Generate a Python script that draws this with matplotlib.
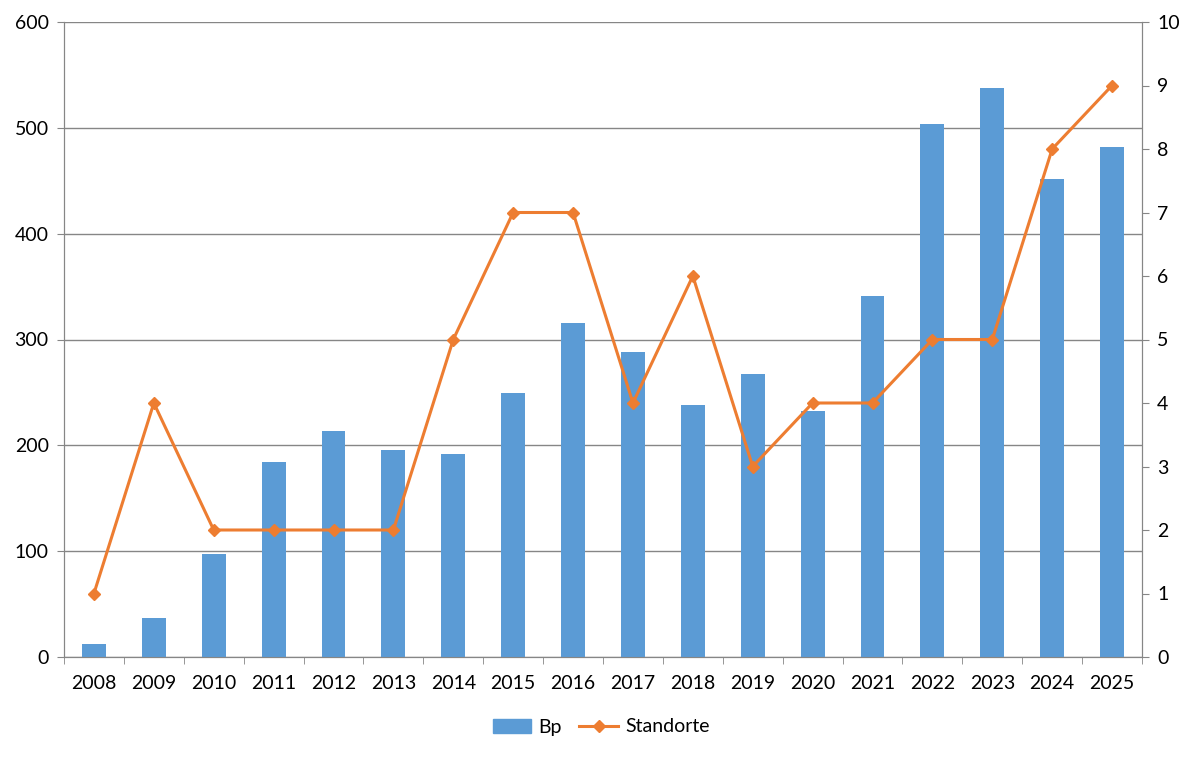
import matplotlib
matplotlib.use("Agg")
import matplotlib.pyplot as plt
from matplotlib.lines import Line2D
from matplotlib.patches import Patch
import numpy as np

years = ["2008", "2009", "2010", "2011", "2012", "2013", "2014", "2015", "2016",
         "2017", "2018", "2019", "2020", "2021", "2022", "2023", "2024", "2025"]
bp = [12, 37, 97, 184, 214, 196, 192, 249, 316, 288, 238, 267, 232, 341, 504, 538, 452, 482]
standorte = [1, 4, 2, 2, 2, 2, 5, 7, 7, 4, 6, 3, 4, 4, 5, 5, 8, 9]

bar_color = "#5B9BD5"
line_color = "#ED7D31"
grid_color = "#868686"

plt.rcParams['font.family'] = ['Lato', 'DejaVu Sans']
fs = 14

fig = plt.figure(figsize=(11.96, 7.59), dpi=100)
ax = fig.add_axes([64/1196, 1 - 657/759, (1142-64)/1196, (657-22)/759])
x = np.arange(len(years))
ax.bar(x, bp, width=0.4, color=bar_color, zorder=3)
ax.set_xlim(-0.5, len(years) - 0.5)
ax.set_ylim(0, 600)
ax.set_yticks(range(0, 601, 100))
ax.yaxis.grid(True, color=grid_color, linewidth=1, zorder=0)
ax.set_axisbelow(True)
ax.set_xticks(x)
ax.set_xticklabels(years)
ax.set_xticks(np.arange(-0.5, len(years), 1), minor=True)
ax.tick_params(axis='x', which='major', length=0, pad=13, labelsize=fs)
ax.tick_params(axis='x', which='minor', length=5, color=grid_color, direction='out')
ax.tick_params(axis='y', length=5, color=grid_color, labelsize=fs, pad=6)
for s in ['left', 'bottom', 'right']:
    ax.spines[s].set_color(grid_color)
ax.spines['top'].set_visible(False)

ax2 = ax.twinx()
ax2.plot(x, standorte, color=line_color, linewidth=2.2, marker='D', markersize=6, zorder=4)
ax2.set_ylim(0, 10)
ax2.set_yticks(range(0, 11))
ax2.tick_params(axis='y', length=5, color=grid_color, labelsize=fs, pad=6)
for s in ['left', 'bottom', 'right']:
    ax2.spines[s].set_color(grid_color)
ax2.spines['top'].set_visible(False)

handles = [Patch(color=bar_color, label='Bp'),
           Line2D([0], [0], color=line_color, linewidth=2.2, marker='D', markersize=6, label='Standorte')]
fig.legend(handles=handles, loc='center', bbox_to_anchor=(601/1196, 1 - 727/759), ncol=2,
           frameon=False, fontsize=fs, handlelength=2.0, columnspacing=0.9, handletextpad=0.35)

fig.savefig("out.png", dpi=100)
